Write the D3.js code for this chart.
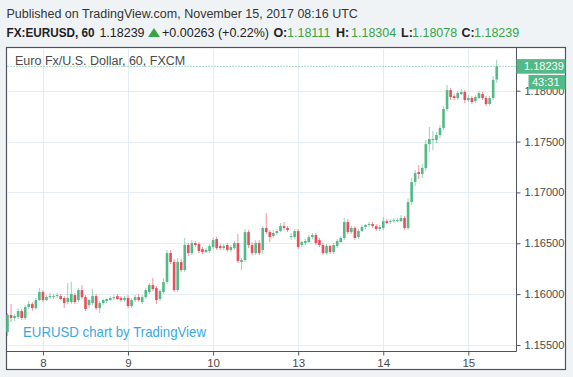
<!DOCTYPE html>
<html>
<head>
<meta charset="utf-8">
<script src="https://cdn.jsdelivr.net/npm/d3@7"></script>
<style>
  body { margin: 0; background: #f0f3f6; }
  svg { display: block; font-family: 'Liberation Sans', Arial, sans-serif; }
</style>
</head>
<body>
<svg id="chart" width="573" height="377"></svg>
<script>
/* EURUSD 60 min candles, Nov 7 14:00 .. Nov 15 08:00 (bar index = hour) */
const dayIndex = [10, 34, 58, 82, 106, 130]
const dayLabels = ['8', '9', '10', '13', '14', '15']
const priceTicks = [1.155, 1.16, 1.165, 1.17, 1.175, 1.18]
const lastPrice = 1.18239
const countdown = '43:31'

const opens = [
  1.15627, 1.15795, 1.15765, 1.15775, 1.15834, 1.15765, 1.15873, 1.15903, 1.15863, 1.15942,
  1.16021, 1.15942, 1.15971, 1.15971, 1.15981, 1.15981, 1.15962, 1.15922, 1.15922, 1.15991,
  1.15942, 1.16040, 1.15971, 1.15893, 1.15912, 1.15981, 1.15863, 1.15912, 1.15932, 1.15942,
  1.15962, 1.15981, 1.15962, 1.15942, 1.15962, 1.15883, 1.15942, 1.15971, 1.15922, 1.15971,
  1.16021, 1.16089, 1.16060, 1.15952, 1.16021, 1.16119, 1.16404, 1.16316, 1.16040, 1.16316,
  1.16237, 1.16483, 1.16404, 1.16502, 1.16493, 1.16443, 1.16414, 1.16424, 1.16463, 1.16542,
  1.16473, 1.16453, 1.16483, 1.16434, 1.16453, 1.16502, 1.16316, 1.16335, 1.16610, 1.16483,
  1.16404, 1.16502, 1.16434, 1.16650, 1.16610, 1.16571, 1.16601, 1.16620, 1.16669, 1.16650,
  1.16561, 1.16561, 1.16620, 1.16483, 1.16502, 1.16512, 1.16561, 1.16581, 1.16532, 1.16483,
  1.16404, 1.16473, 1.16414, 1.16473, 1.16512, 1.16552, 1.16709, 1.16610, 1.16650, 1.16561,
  1.16620, 1.16660, 1.16679, 1.16689, 1.16669, 1.16640, 1.16650, 1.16718, 1.16709, 1.16718,
  1.16718, 1.16718, 1.16748, 1.16650, 1.16905, 1.17102, 1.17200, 1.17181, 1.17240, 1.17475,
  1.17515, 1.17515, 1.17564, 1.17633, 1.17820, 1.18006, 1.17947, 1.17928, 1.17967, 1.17987,
  1.17908, 1.17928, 1.17898, 1.17928, 1.17967, 1.17928, 1.17869, 1.17928, 1.18111
]
const highs = [
  1.15814, 1.15903, 1.15805, 1.15863, 1.15854, 1.15893, 1.15932, 1.15922, 1.15962, 1.16060,
  1.16040, 1.15991, 1.16011, 1.16001, 1.16011, 1.16001, 1.15981, 1.16109, 1.16119, 1.16011,
  1.16060, 1.16089, 1.15991, 1.15952, 1.16050, 1.16001, 1.15932, 1.15952, 1.15962, 1.15981,
  1.15991, 1.16001, 1.15981, 1.15981, 1.15991, 1.15962, 1.15991, 1.16001, 1.15991, 1.16060,
  1.16109, 1.16158, 1.16080, 1.16050, 1.16158, 1.16434, 1.16434, 1.16345, 1.16355, 1.16345,
  1.16552, 1.16502, 1.16532, 1.16522, 1.16512, 1.16463, 1.16453, 1.16493, 1.16552, 1.16561,
  1.16493, 1.16493, 1.16502, 1.16483, 1.16522, 1.16591, 1.16355, 1.16640, 1.16630, 1.16512,
  1.16532, 1.16532, 1.16669, 1.16797, 1.16630, 1.16630, 1.16640, 1.16699, 1.16709, 1.16669,
  1.16601, 1.16640, 1.16640, 1.16522, 1.16542, 1.16581, 1.16601, 1.16601, 1.16552, 1.16502,
  1.16493, 1.16483, 1.16502, 1.16542, 1.16571, 1.16748, 1.16738, 1.16669, 1.16669, 1.16640,
  1.16679, 1.16689, 1.16709, 1.16709, 1.16689, 1.16679, 1.16758, 1.16738, 1.16738, 1.16748,
  1.16748, 1.16777, 1.16768, 1.16945, 1.17141, 1.17220, 1.17269, 1.17279, 1.17515, 1.17643,
  1.17603, 1.17594, 1.17662, 1.17849, 1.18055, 1.18026, 1.17967, 1.17996, 1.18016, 1.18006,
  1.17957, 1.17947, 1.17957, 1.17996, 1.17987, 1.17947, 1.17947, 1.18144, 1.18304
]
const lows = [
  1.15588, 1.15725, 1.15735, 1.15755, 1.15745, 1.15745, 1.15854, 1.15834, 1.15844, 1.15932,
  1.15922, 1.15932, 1.15952, 1.15952, 1.15962, 1.15942, 1.15863, 1.15903, 1.15903, 1.15903,
  1.15922, 1.15952, 1.15834, 1.15863, 1.15893, 1.15844, 1.15814, 1.15893, 1.15912, 1.15932,
  1.15942, 1.15942, 1.15922, 1.15922, 1.15863, 1.15863, 1.15922, 1.15922, 1.15903, 1.15952,
  1.16001, 1.16030, 1.15903, 1.15932, 1.16001, 1.16099, 1.16296, 1.16021, 1.16021, 1.16217,
  1.16217, 1.16375, 1.16384, 1.16463, 1.16404, 1.16394, 1.16404, 1.16404, 1.16443, 1.16434,
  1.16434, 1.16434, 1.16414, 1.16414, 1.16434, 1.16305, 1.16237, 1.16316, 1.16453, 1.16384,
  1.16384, 1.16384, 1.16394, 1.16591, 1.16512, 1.16552, 1.16581, 1.16610, 1.16630, 1.16610,
  1.16532, 1.16542, 1.16443, 1.16463, 1.16483, 1.16502, 1.16542, 1.16483, 1.16463, 1.16384,
  1.16384, 1.16394, 1.16394, 1.16453, 1.16502, 1.16532, 1.16591, 1.16591, 1.16532, 1.16542,
  1.16610, 1.16640, 1.16660, 1.16650, 1.16620, 1.16620, 1.16630, 1.16689, 1.16689, 1.16699,
  1.16709, 1.16709, 1.16630, 1.16630, 1.16876, 1.17063, 1.17131, 1.17141, 1.17210, 1.17397,
  1.17416, 1.17485, 1.17534, 1.17613, 1.17800, 1.17908, 1.17908, 1.17908, 1.17957, 1.17878,
  1.17888, 1.17869, 1.17878, 1.17918, 1.17908, 1.17849, 1.17849, 1.17908, 1.18078
]
const closes = [
  1.15795, 1.15765, 1.15785, 1.15834, 1.15765, 1.15873, 1.15903, 1.15863, 1.15942, 1.16021,
  1.15942, 1.15971, 1.15981, 1.15981, 1.15991, 1.15952, 1.15912, 1.15962, 1.16001, 1.15922,
  1.16040, 1.15971, 1.15854, 1.15942, 1.15981, 1.15863, 1.15912, 1.15942, 1.15952, 1.15962,
  1.15971, 1.15952, 1.15942, 1.15962, 1.15883, 1.15942, 1.15971, 1.15942, 1.15971, 1.16040,
  1.16089, 1.16050, 1.15942, 1.16030, 1.16119, 1.16404, 1.16316, 1.16040, 1.16316, 1.16237,
  1.16483, 1.16404, 1.16502, 1.16483, 1.16424, 1.16414, 1.16434, 1.16473, 1.16532, 1.16453,
  1.16453, 1.16473, 1.16434, 1.16463, 1.16502, 1.16325, 1.16335, 1.16610, 1.16483, 1.16404,
  1.16502, 1.16404, 1.16650, 1.16610, 1.16561, 1.16601, 1.16620, 1.16669, 1.16650, 1.16630,
  1.16571, 1.16620, 1.16463, 1.16512, 1.16522, 1.16561, 1.16581, 1.16502, 1.16483, 1.16404,
  1.16473, 1.16414, 1.16483, 1.16522, 1.16552, 1.16709, 1.16610, 1.16650, 1.16552, 1.16620,
  1.16660, 1.16679, 1.16689, 1.16669, 1.16640, 1.16660, 1.16718, 1.16699, 1.16718, 1.16728,
  1.16728, 1.16748, 1.16650, 1.16905, 1.17102, 1.17190, 1.17181, 1.17240, 1.17475, 1.17525,
  1.17525, 1.17564, 1.17633, 1.17820, 1.18006, 1.17937, 1.17928, 1.17977, 1.17987, 1.17908,
  1.17928, 1.17888, 1.17937, 1.17977, 1.17928, 1.17869, 1.17928, 1.18105, 1.18239
]

const upColor = '#53b987'
const downColor = '#eb4d5c'
const gridColor = '#e4edf3'
const axisColor = '#50535e'
const textColor = '#4a4a4a'
const fontStack = "'Liberation Sans', Arial, sans-serif"

const svg = d3.select('#chart')

// frame / plot geometry
const plotLeft = 6.5
const plotTop = 47.5
const plotRight = 516.5
const plotBottom = 351.5
const outerRight = 565.5
const outerBottom = 369.5

const x = d3.scaleLinear().domain([0, closes.length - 1]).range([7.5, 496.7])
const y = d3.scaleLinear().domain([1.155, 1.18]).range([345, 90.7])

// header texts
svg.append('text')
  .attr('x', 6.5).attr('y', 17.5)
  .style('font-size', '12.5px').style('fill', '#333')
  .text('Published on TradingView.com, November 15, 2017 08:16 UTC')

const green = '#36a548'
const hdr = svg.append('text').attr('y', 36.5).style('font-size', '12.5px').style('fill', '#222')
hdr.append('tspan').attr('x', 6.5).style('font-weight', 'bold')
  .attr('textLength', 88).attr('lengthAdjust', 'spacingAndGlyphs').text('FX:EURUSD, 60')
hdr.append('tspan').attr('x', 99.4).text('1.18239')
hdr.append('tspan').attr('x', 162).text('+0.00263 (+0.22%)')
const ohlcLabels = ['O:', 'H:', 'L:', 'C:']
const ohlcVals = ['1.18111', '1.18304', '1.18078', '1.18239']
const ohlcX = [273.4, 336, 401, 461.6]
const ohlcValX = [287, 351, 412, 474]
ohlcLabels.forEach((l, i) => {
  hdr.append('tspan').attr('x', ohlcX[i]).style('font-weight', 'bold').text(l)
  hdr.append('tspan').attr('x', ohlcValX[i]).style('fill', green).text(ohlcVals[i])
})
svg.append('path')
  .attr('d', 'M148,37 L154,28 L160,37 Z')
  .style('fill', green)

// frame
svg.append('rect')
  .attr('x', plotLeft).attr('y', plotTop)
  .attr('width', outerRight - plotLeft).attr('height', outerBottom - plotTop)
  .style('fill', 'white').style('stroke', axisColor).style('stroke-width', 1.2)

// grid
svg.append('g').selectAll('line').data(priceTicks).join('line')
  .attr('x1', plotLeft + 1).attr('x2', plotRight)
  .attr('y1', d => Math.round(y(d)) + 0.5).attr('y2', d => Math.round(y(d)) + 0.5)
  .style('stroke', gridColor)
svg.append('g').selectAll('line').data(dayIndex).join('line')
  .attr('x1', d => Math.round(x(d)) + 0.5).attr('x2', d => Math.round(x(d)) + 0.5)
  .attr('y1', plotTop + 1).attr('y2', plotBottom)
  .style('stroke', gridColor)

// legend + watermark
svg.append('text')
  .attr('x', 15).attr('y', 65)
  .style('font-size', '12.5px').style('fill', textColor)
  .text('Euro Fx/U.S. Dollar, 60, FXCM')
svg.append('text')
  .attr('x', 23).attr('y', 336.5)
  .style('font-size', '14.5px').style('fill', '#3aa9de')
  .attr('textLength', 183).attr('lengthAdjust', 'spacingAndGlyphs')
  .text('EURUSD chart by TradingView')

// candles
const candles = svg.append('g')
closes.forEach((c, i) => {
  const o = opens[i]
  const col = c >= o ? upColor : downColor
  candles.append('line')
    .attr('x1', x(i)).attr('x2', x(i))
    .attr('y1', y(highs[i])).attr('y2', y(lows[i]))
    .style('stroke', col).style('stroke-width', 1).style('opacity', 0.6)
  const yt = y(Math.max(o, c))
  const h = Math.max(1, Math.abs(y(o) - y(c)))
  candles.append('rect')
    .attr('x', x(i) - 1.3).attr('width', 2.6)
    .attr('y', yt).attr('height', h)
    .style('fill', col)
})

// last price dotted line
svg.append('line')
  .attr('x1', plotLeft + 1).attr('x2', plotRight)
  .attr('y1', y(lastPrice)).attr('y2', y(lastPrice))
  .style('stroke', upColor).style('stroke-dasharray', '1,2')

// axes
svg.append('line')
  .attr('x1', plotRight).attr('x2', plotRight).attr('y1', plotTop).attr('y2', plotBottom)
  .style('stroke', axisColor)
svg.append('line')
  .attr('x1', plotLeft).attr('x2', plotRight).attr('y1', plotBottom).attr('y2', plotBottom)
  .style('stroke', axisColor)

const yAxis = d3.axisRight(y).tickValues(priceTicks).tickFormat(d3.format('.5f'))
  .tickSize(4).tickPadding(4).tickSizeOuter(0)
svg.append('g')
  .attr('transform', 'translate(' + plotRight + ',0)')
  .call(yAxis)
  .call(g => g.select('.domain').remove())
  .call(g => g.selectAll('line').style('stroke', axisColor))
  .call(g => g.selectAll('text').style('font-size', '11px').style('fill', textColor)
    .style('font-family', fontStack))

const xAxis = d3.axisBottom(x).tickValues(dayIndex).tickFormat((d, i) => dayLabels[i])
  .tickSize(4).tickPadding(3).tickSizeOuter(0)
svg.append('g')
  .attr('transform', 'translate(0,' + plotBottom + ')')
  .call(xAxis)
  .call(g => g.select('.domain').remove())
  .call(g => g.selectAll('line').style('stroke', axisColor))
  .call(g => g.selectAll('text').style('font-size', '11.5px').style('fill', textColor)
    .style('font-family', fontStack))

// price and countdown labels
const yl = y(lastPrice)
svg.append('rect')
  .attr('x', plotRight).attr('y', yl - 7.3).attr('width', outerRight - plotRight).attr('height', 14.6)
  .style('fill', upColor)
svg.append('text')
  .attr('x', 524).attr('y', yl).attr('dy', '0.35em')
  .style('font-size', '11px').style('fill', 'white')
  .text(d3.format('.5f')(lastPrice))
svg.append('rect')
  .attr('x', 528.5).attr('y', yl + 8.6).attr('width', outerRight - 528.5).attr('height', 14.4)
  .style('fill', upColor)
svg.append('text')
  .attr('x', 532).attr('y', yl + 15.8).attr('dy', '0.35em')
  .style('font-size', '11px').style('fill', 'white')
  .text(countdown)
</script>
</body>
</html>
